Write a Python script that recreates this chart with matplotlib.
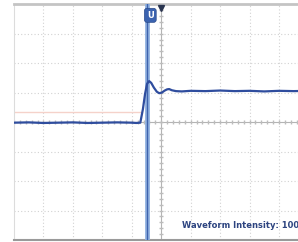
import numpy as np
import matplotlib.pyplot as plt

# scope trace, read in screen divisions (10 x 8 grid, centre = 0)
t_div = [-5.0, -4.5, -4.0, -3.5, -3.0, -2.5, -2.0, -1.5, -1.0, -0.85, -0.71,
         -0.62, -0.55, -0.48, -0.41, -0.34, -0.25, -0.15, -0.07, 0.02, 0.12,
         0.2, 0.27, 0.36, 0.5, 0.7, 1.0, 1.5, 2.0, 2.5, 3.0, 3.5, 4.0, 4.5, 5.0]
v_div = [-0.02, -0.01, -0.03, -0.02, -0.01, -0.03, -0.02, -0.01, -0.02, -0.03,
         -0.02, 0.45, 0.95, 1.3, 1.39, 1.33, 1.17, 1.03, 0.98, 1.0, 1.07,
         1.11, 1.12, 1.08, 1.05, 1.04, 1.06, 1.05, 1.07, 1.05, 1.06, 1.04,
         1.06, 1.05, 1.06]
ref_level = 0.35        # faint reference trace
cursor_t = -0.47        # cursor position
label = 'Waveform Intensity: 100%'

fig = plt.figure(figsize=(2.98, 2.42), dpi=100)
ax = fig.add_axes([0.047, 0.008, 0.988, 0.975])
ax.set_xlim(-5, 5)
ax.set_ylim(-4, 4)

# dotted grid
for x in range(-4, 5):
    if x != 0:
        ax.axvline(x, color='#d2d2d2', lw=0.8, ls=(0, (1, 2)), zorder=1)
for y in range(-3, 4):
    if y != 0:
        ax.axhline(y, color='#d2d2d2', lw=0.8, ls=(0, (1, 2)), zorder=1)

# centre lines with minor ticks
ax.axvline(0, color='#b4b4b4', lw=0.8, zorder=1)
ax.axhline(0, color='#b4b4b4', lw=0.8, zorder=1)
mt = np.arange(-5, 5.01, 0.2)
ax.plot(mt, np.zeros_like(mt), ls='none', marker='|', ms=3, color='#bcbcbc', zorder=1)
mt = np.arange(-4, 4.01, 0.2)
ax.plot(np.zeros_like(mt), mt, ls='none', marker='_', ms=3, color='#bcbcbc', zorder=1)

# faint reference trace
ax.plot([-5, -0.7], [ref_level, ref_level], color='#f5d2ca', lw=1.0, zorder=2)

# cursor
ax.axvline(cursor_t, color='#93b3e0', lw=3.5, zorder=3)
ax.axvline(cursor_t, color='#3f63ad', lw=1.0, zorder=3)
ax.text(cursor_t + 0.1, 3.62, 'U', ha='center', va='center', fontsize=6,
        fontweight='bold', color='white', zorder=6,
        bbox=dict(boxstyle='round,pad=0.3', fc='#3b63b0', ec='#2a4a8a', lw=0.5))
ax.plot([0], [3.88], marker='v', ms=5, color='#2a3550', zorder=6, clip_on=False)

# waveform
ax.plot(t_div, v_div, color='#2f4d9e', lw=1.6, zorder=4)

ax.text(0.57, 0.06, label, transform=ax.transAxes, fontsize=6,
        fontweight='bold', color='#2d4480', va='center', ha='left', zorder=5)

ax.set_xticks([])
ax.set_yticks([])
for s in ['left', 'right']:
    ax.spines[s].set_color('#dcdcdc')
    ax.spines[s].set_linewidth(0.8)
ax.spines['top'].set_color('#c4c4c4')
ax.spines['top'].set_linewidth(2)
ax.spines['bottom'].set_color('#9a9a9a')
ax.spines['bottom'].set_linewidth(1.5)

plt.savefig('out.png', dpi=100)
